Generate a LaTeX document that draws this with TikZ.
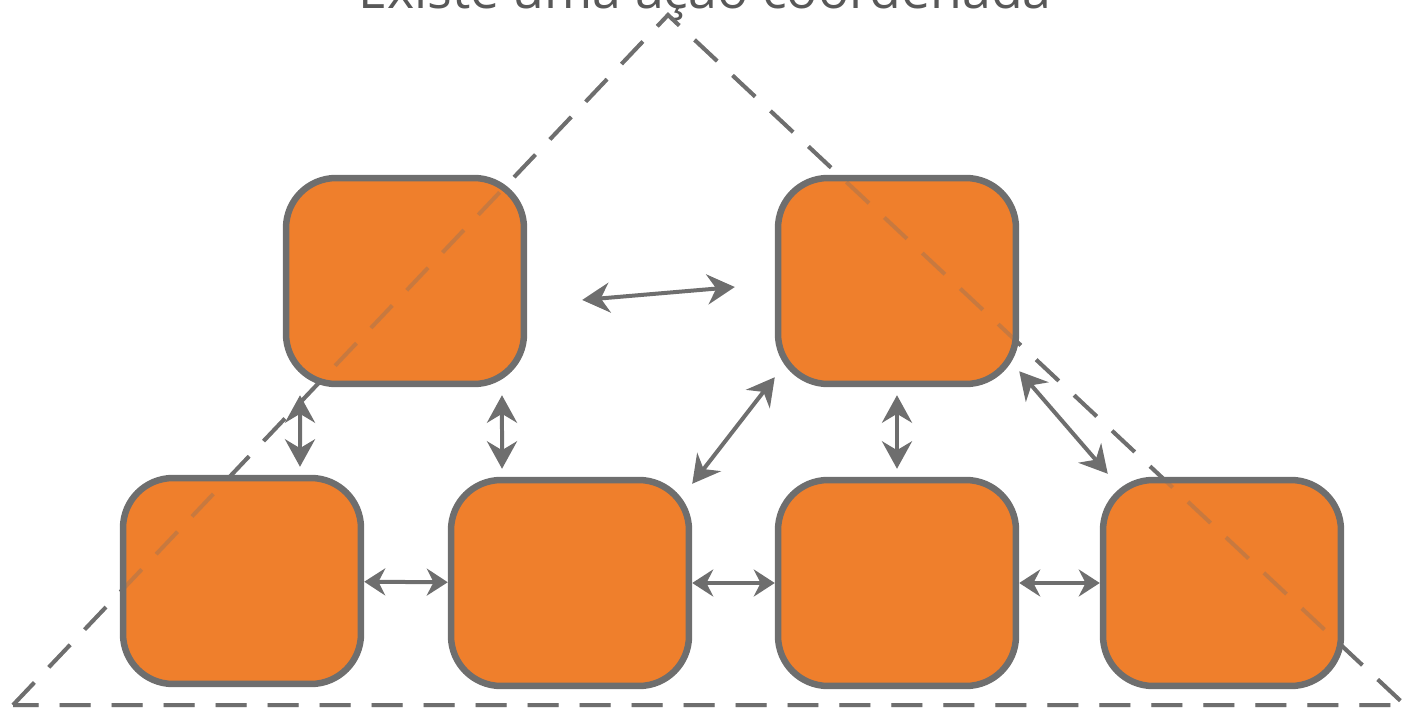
\documentclass[tikz,border=0pt]{standalone}
\usepackage{fontspec}
\setmainfont{Open Sans}
\usetikzlibrary{arrows.meta}
\definecolor{boxorange}{HTML}{EF7F2C}
\definecolor{linegray}{HTML}{6E6E6E}

\begin{document}
\begin{tikzpicture}[x=0.02cm,y=-0.02cm,
  agent/.style={draw=linegray, line width=0.13cm, fill=boxorange, rounded corners=1cm,
    minimum width=4.76cm, minimum height=4.12cm},
  link/.style={linegray, line width=0.08cm,
    {Stealth[length=0.55cm,width=0.6cm]}-{Stealth[length=0.55cm,width=0.6cm]}},
  short link/.style={linegray, line width=0.08cm,
    {Stealth[length=0.42cm,width=0.54cm]}-{Stealth[length=0.42cm,width=0.54cm]}},
  border/.style={linegray, line width=0.08cm, dash pattern=on 0.62cm off 0.42cm}]
\useasboundingbox (0,0) rectangle (1411,710);

\node [anchor=base, text=linegray!80!black, font=\fontsize{29.5}{34}\selectfont] (t0) at (705,9) {Existe uma ação coordenada};

\coordinate (apex) at (668,15);
\coordinate (bl) at (13,705);
\coordinate (br) at (1405,705);
\draw [border] (bl) -- (apex) -- (br) -- cycle;

\node [agent] (n0) at (405,281) {};
\node [agent] (n1) at (897,281) {};

\node [agent] (n2) at (242,581) {};
\node [agent] (n3) at (570,583) {};
\node [agent] (n4) at (897,583) {};
\node [agent] (n5) at (1222,583) {};

% dashed outline shows faintly through the boxes
\draw [border, opacity=0.3] (bl) -- (apex) -- (br) -- cycle;

\draw [link] ([xshift=1.1cm,yshift=-0.38cm]n0.east) -- ([xshift=-0.8cm,yshift=-0.12cm]n1.west);

\draw [link] ([xshift=-2.1cm,yshift=-0.16cm]n0.south) -- ([xshift=1.16cm,yshift=0.16cm]n2.north);
\draw [link] ([xshift=1.94cm,yshift=-0.16cm]n0.south) -- ([xshift=-1.36cm,yshift=0.16cm]n3.north);
\draw [link] ([yshift=-0.14cm]n3.north east) -- ([yshift=0.2cm]n1.south west);
\draw [link] ([yshift=-0.16cm]n1.south) -- ([yshift=0.16cm]n4.north);
\draw [link] ([yshift=0.32cm]n1.south east) -- ([xshift=0.16cm,yshift=0.06cm]n5.north west);

\draw [short link] (n2) -- (n3);
\draw [short link] (n3) -- (n4);
\draw [short link] (n4) -- (n5);

\end{tikzpicture}
\end{document}
